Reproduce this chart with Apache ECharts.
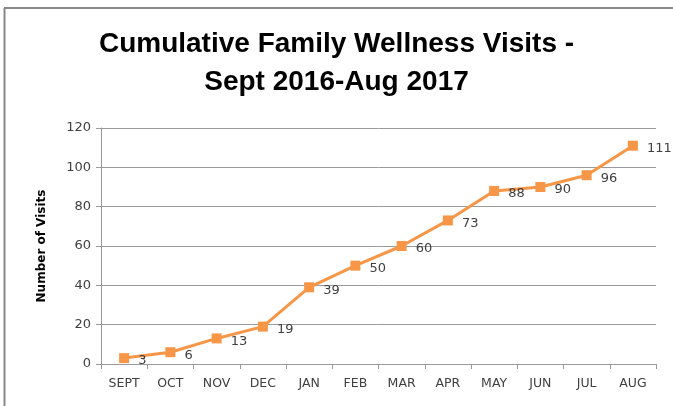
<!DOCTYPE html>
<html><head><meta charset="utf-8">
<script src="https://cdn.jsdelivr.net/npm/echarts@6/dist/echarts.min.js"></script>
<style>html,body{margin:0;padding:0;background:#fff}#c{width:673px;height:406px}</style>
</head><body><div id="c"></div>
<script>
var categories = ['SEPT','OCT','NOV','DEC','JAN','FEB','MAR','APR','MAY','JUN','JUL','AUG'];
var visits = [3,6,13,19,39,50,60,73,88,90,96,111];
var yTicks = [0,20,40,60,80,100,120];

var chart = echarts.init(document.getElementById('c'));
chart.setOption({
  backgroundColor:'#fff',
  animation:false,
  title:{
    text:'Cumulative Family Wellness Visits -\nSept 2016-Aug 2017',
    left:'center', top:20,
    textStyle:{fontFamily:'Liberation Sans',fontWeight:'bold',fontSize:28,color:'#000',lineHeight:38}
  },
  graphic:[
    {type:'line',shape:{x1:4.5,y1:8,x2:4.5,y2:406},style:{stroke:'#888',lineWidth:2}},
    {type:'line',shape:{x1:4,y1:8,x2:673,y2:8},style:{stroke:'#888',lineWidth:2}}
  ],
  grid:{left:101,right:17,top:128,bottom:42},
  xAxis:{
    type:'category',data:categories,boundaryGap:true,
    axisLine:{lineStyle:{color:'#9a9a9a',width:1}},
    axisTick:{show:true,length:5,lineStyle:{color:'#9a9a9a'}},
    axisLabel:{color:'#404040',fontSize:12.5,fontFamily:'DejaVu Sans',margin:13}
  },
  yAxis:{
    type:'value',min:yTicks[0],max:yTicks[yTicks.length-1],interval:20,
    name:'Number of Visits',nameLocation:'middle',nameGap:53,
    nameTextStyle:{fontFamily:'DejaVu Sans',fontWeight:'bold',fontSize:12,color:'#000'},
    axisLine:{show:true,lineStyle:{color:'#9a9a9a'}},
    axisTick:{show:true,length:5,lineStyle:{color:'#9a9a9a'}},
    splitLine:{lineStyle:{color:'#9a9a9a',width:1}},
    axisLabel:{color:'#404040',fontSize:13,fontFamily:'DejaVu Sans',margin:10}
  },
  series:[{
    type:'line',data:visits,
    lineStyle:{color:'#F79646',width:3},
    itemStyle:{color:'#F79646'},
    symbol:'rect',symbolSize:10,
    label:{show:true,position:'right',distance:9,color:'#404040',fontSize:13,fontFamily:'DejaVu Sans',offset:[0,3]}
  }]
});
</script></body></html>
